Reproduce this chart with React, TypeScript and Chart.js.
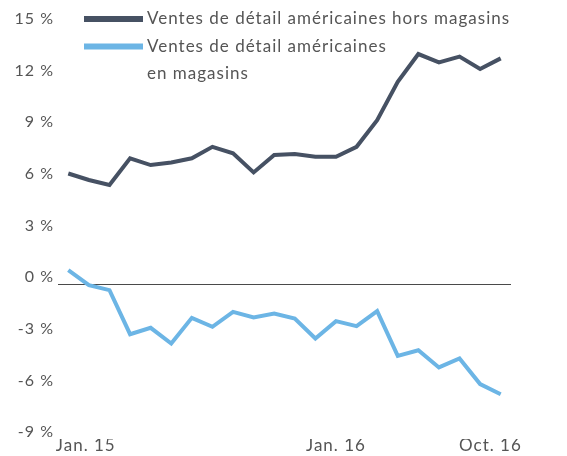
import React, { useEffect, useRef } from "react";
import { Chart, registerables } from "chart.js";

Chart.register(...registerables);

const months: string[] = [
  "Jan. 15", "Fév. 15", "Mars 15", "Avr. 15", "Mai 15", "Juin 15", "Juil. 15", "Août 15",
  "Sept. 15", "Oct. 15", "Nov. 15", "Déc. 15", "Jan. 16", "Fév. 16", "Mars 16", "Avr. 16",
  "Mai 16", "Juin 16", "Juil. 16", "Août 16", "Sept. 16", "Oct. 16",
];

const horsMagasins: number[] = [
  6.43, 6.05, 5.76, 7.31, 6.92, 7.07, 7.31, 7.98, 7.6, 6.49, 7.5,
  7.56, 7.4, 7.4, 7.98, 9.53, 11.76, 13.37, 12.89, 13.22, 12.5, 13.12,
];

const enMagasins: number[] = [
  0.81, -0.06, -0.35, -2.91, -2.54, -3.45, -1.96, -2.48, -1.61, -1.94, -1.71,
  -2.0, -3.16, -2.15, -2.44, -1.57, -4.17, -3.84, -4.84, -4.32, -5.81, -6.4,
];

const seriesLabels: string[][] = [
  ["Ventes de détail américaines hors magasins"],
  ["Ventes de détail américaines", "en magasins"],
];

const xTickLabels: string[] = ["Jan. 15", "Jan. 16", "Oct. 16"];
const xTickMonths: number[] = [0, 12, 21];

const yMin = -9;
const yMax = 15;
const yStep = 3;

const DARK = "#465163";
const LIGHT = "#6cb5e5";
const TEXT = "#555555";
const FONT = "Lato, 'Open Sans', sans-serif";

const spacingPlugin = {
  id: "letterSpacing",
  beforeDraw(chart: any) {
    (chart.ctx as any).letterSpacing = "1px";
  },
};

const legendPlugin = {
  id: "customLegend",
  afterDraw(chart: any) {
    const ctx = chart.ctx;
    ctx.save();
    (ctx as any).letterSpacing = "1px";
    ctx.font = `17px ${FONT}`;
    ctx.fillStyle = TEXT;
    ctx.textBaseline = "middle";
    ctx.textAlign = "left";
    let y = 19;
    chart.data.datasets.forEach((ds: any) => {
      ctx.strokeStyle = ds.borderColor;
      ctx.lineWidth = 6;
      ctx.lineCap = "butt";
      ctx.beginPath();
      ctx.moveTo(84, y);
      ctx.lineTo(143, y);
      ctx.stroke();
      const lines: string[] = Array.isArray(ds.label) ? ds.label : [ds.label];
      ctx.fillStyle = TEXT;
      lines.forEach((ln: string, i: number) => {
        ctx.fillText(ln, 147, y + i * 27.5);
      });
      y += 27.5 * lines.length;
    });
    ctx.restore();
    (ctx as any).letterSpacing = "0px";
  },
};

export default function App() {
  const ref = useRef<HTMLCanvasElement | null>(null);

  useEffect(() => {
    if (!ref.current) return;
    const tickShift = [0.85, 1.0, -0.5];
    const chart = new Chart(ref.current, {
      type: "line",
      data: {
        datasets: [
          {
            label: seriesLabels[0] as any,
            data: horsMagasins.map((v, i) => ({ x: i, y: v })),
            borderColor: DARK,
            backgroundColor: DARK,
            borderWidth: 4,
            pointRadius: 0,
            tension: 0,
            borderJoinStyle: "miter",
          },
          {
            label: seriesLabels[1] as any,
            data: enMagasins.map((v, i) => ({ x: i, y: v })),
            borderColor: LIGHT,
            backgroundColor: LIGHT,
            borderWidth: 4,
            pointRadius: 0,
            tension: 0,
            borderJoinStyle: "miter",
          },
        ],
      },
      options: {
        animation: false,
        responsive: false,
        devicePixelRatio: 1,
        layout: { padding: { top: 26, right: 56, left: 0, bottom: 0 } },
        plugins: {
          legend: { display: false },
          tooltip: { enabled: false },
        },
        scales: {
          x: {
            type: "linear",
            min: -0.5,
            max: months.length - 0.5,
            grid: { display: false, drawTicks: false },
            border: { display: false },
            afterBuildTicks: (scale: any) => {
              scale.ticks = xTickMonths.map((m, i) => ({ value: m + tickShift[i] }));
            },
            afterFit: (scale: any) => {
              scale.height = 17;
            },
            ticks: {
              autoSkip: false,
              maxRotation: 0,
              minRotation: 0,
              padding: -4,
              color: TEXT,
              font: { family: FONT, size: 17 },
              callback: (_v: any, i: number) => xTickLabels[i],
            },
          },
          y: {
            min: yMin,
            max: yMax,
            afterFit: (scale: any) => {
              scale.width = 58;
            },
            grid: {
              drawTicks: false,
              color: (c: any) => (c.tick && c.tick.value === 0 ? "#4a4a4a" : "rgba(0,0,0,0)"),
              lineWidth: 1,
            },
            border: { display: false },
            ticks: {
              stepSize: yStep,
              padding: 4,
              labelOffset: -7,
              color: TEXT,
              font: { family: FONT, size: 16 },
              callback: (v: any) => `${v} %`,
            },
          },
        },
      },
      plugins: [spacingPlugin, legendPlugin],
    });
    return () => chart.destroy();
  }, []);

  return (
    <div style={{ position: "absolute", left: 0, top: 0, width: 567, height: 456, background: "#fff" }}>
      <canvas ref={ref} width={567} height={456} />
    </div>
  );
}
